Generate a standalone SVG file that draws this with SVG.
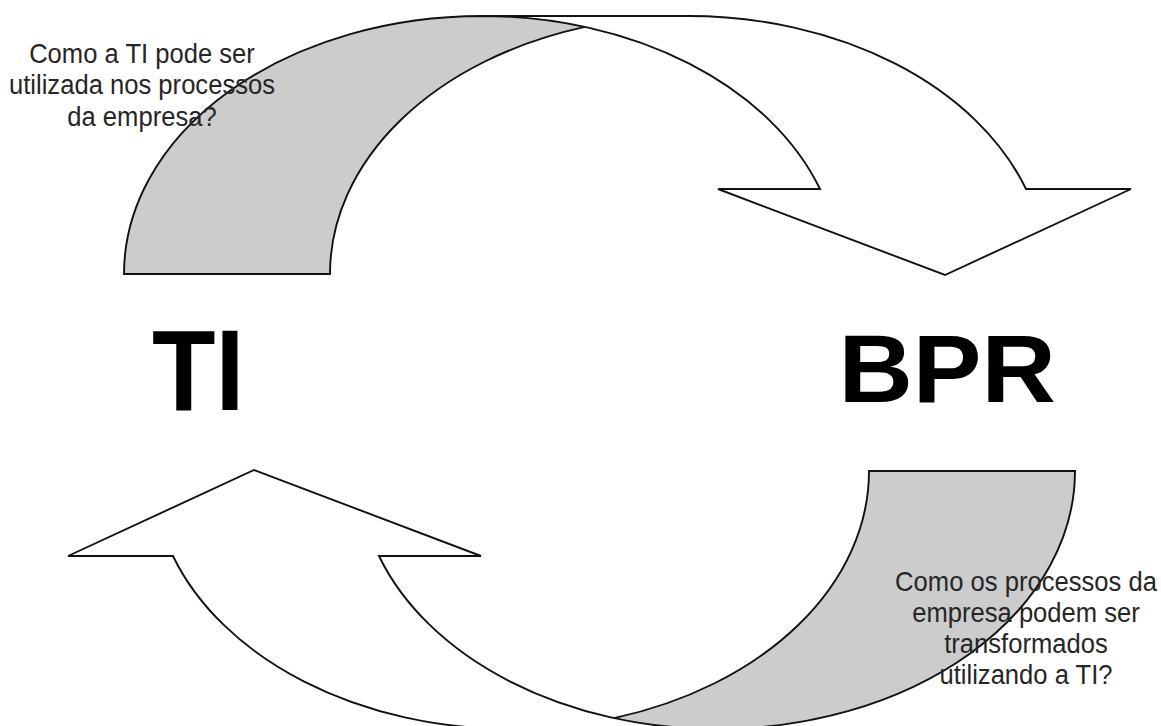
<svg xmlns="http://www.w3.org/2000/svg" width="1161" height="726" viewBox="0 0 1161 726">
  <style>
    .front { fill: #ffffff; stroke: none; }
    .back { fill: #cccccc; stroke: none; }
    .edge { fill: none; stroke: #111111; stroke-width: 1.9; stroke-linejoin: miter; }
    .note { font-family: "Liberation Sans", Arial, sans-serif; font-size: 25.6px; fill: #262626; text-anchor: middle; }
    .big { font-family: "Liberation Sans", Arial, sans-serif; font-weight: bold; fill: #000000; }
  </style>
  <defs>
    <!-- curved arrow: back ribbon (grey) rising from the base, front ribbon (white) ending in the head -->
    <g id="curved-arrow">
      <path class="front" d="M 945 275 L 718 189 L 820 189 A 358 258 0 0 0 482 16 L 688 16 A 358 258 0 0 1 1026 189 L 1131 189 Z"/>
      <path class="back" d="M 585 26.9 A 358 258 0 0 0 330 274 L 124 274 A 358 258 0 0 1 585 26.9 Z"/>
      <path class="edge" d="M 585 26.9 A 358 258 0 0 0 330 274 L 124 274 A 358 258 0 0 1 482 16 L 688 16 A 358 258 0 0 1 1026 189 L 1131 189 L 945 275 L 718 189 L 820 189 A 358 258 0 0 0 482 16"/>
    </g>
  </defs>

  <g id="connectors">
    <use id="arrow-ti-to-bpr" href="#curved-arrow"/>
    <use id="arrow-bpr-to-ti" href="#curved-arrow" transform="rotate(180 599.5 372.5)"/>
  </g>

  <g id="node-ti">
    <text class="big" font-size="104" transform="translate(152 409.5) scale(1 1.1)">TI</text>
  </g>

  <g id="node-bpr">
    <text class="big" font-size="103" transform="translate(838.5 402) scale(1 0.94)">BPR</text>
  </g>

  <g id="question-ti">
    <text class="note" transform="translate(142 62.5) scale(1 1.1)">Como a TI pode ser</text>
    <text class="note" transform="translate(142 94) scale(1 1.1)">utilizada nos processos</text>
    <text class="note" transform="translate(142 125.5) scale(1 1.1)">da empresa?</text>
  </g>

  <g id="question-bpr">
    <text class="note" transform="translate(1026 591) scale(1 1.1)">Como os processos da</text>
    <text class="note" transform="translate(1026 622) scale(1 1.1)">empresa podem ser</text>
    <text class="note" transform="translate(1026 653) scale(1 1.1)">transformados</text>
    <text class="note" transform="translate(1026 683.5) scale(1 1.1)">utilizando a TI?</text>
  </g>
</svg>
